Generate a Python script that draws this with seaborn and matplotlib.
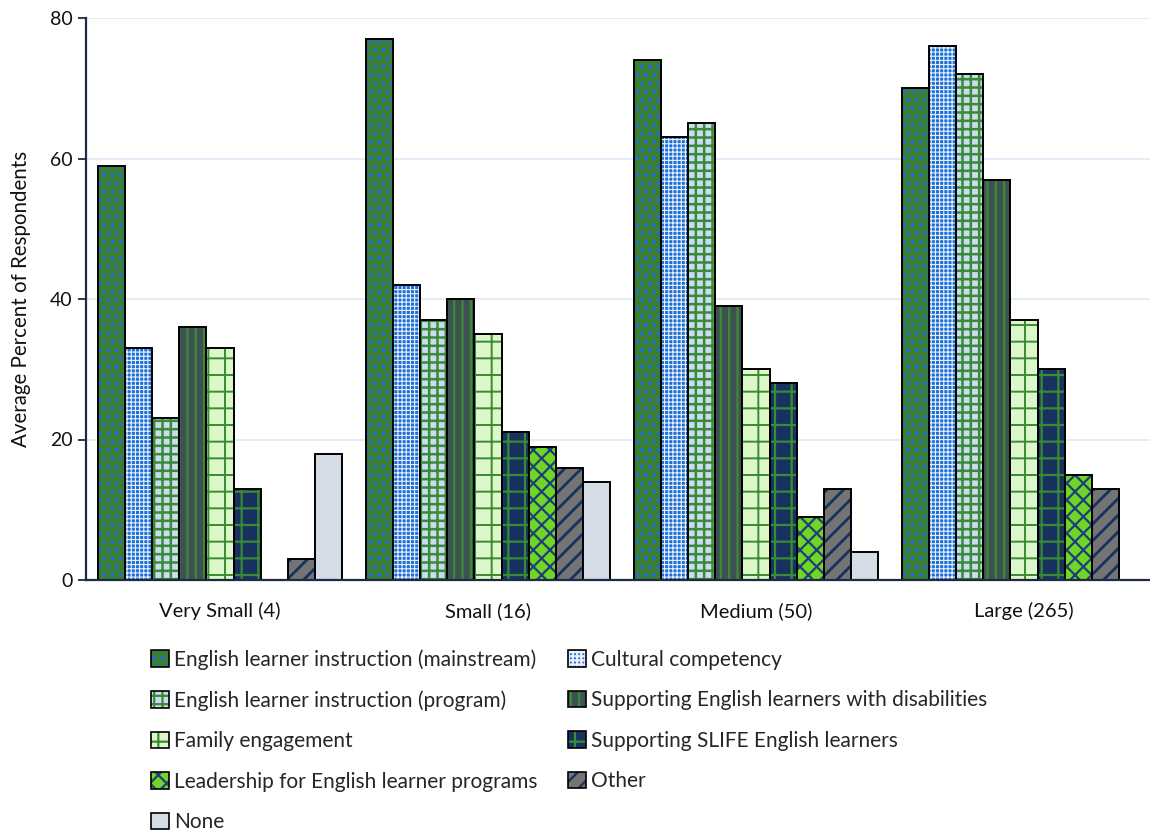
import numpy as np
import pandas as pd
import matplotlib
matplotlib.use("Agg")
import matplotlib.pyplot as plt
import matplotlib.colors as mcolors
import seaborn as sns

# District size groups and training topics
sizes = ["Very Small (4)", "Small (16)", "Medium (50)", "Large (265)"]
topics = [
    "English learner instruction (mainstream)",
    "Cultural competency",
    "English learner instruction (program)",
    "Supporting English learners with disabilities",
    "Family engagement",
    "Supporting SLIFE English learners",
    "Leadership for English learner programs",
    "Other",
    "None",
]

# Average percent of respondents per topic, one value per size group
mainstream = [59, 77, 74, 70]
cultural = [33, 42, 63, 76]
program = [23, 37, 65, 72]
disabilities = [36, 40, 39, 57]
family = [33, 35, 30, 37]
slife = [13, 21, 28, 30]
leadership = [0, 19, 9, 15]
other = [3, 16, 13, 13]
none = [18, 14, 4, 0]

series = [mainstream, cultural, program, disabilities, family,
          slife, leadership, other, none]

rows = []
for topic, vals in zip(topics, series):
    for size, v in zip(sizes, vals):
        rows.append({"size": size, "topic": topic, "pct": v})
df = pd.DataFrame(rows)

# Fill colour, hatch pattern, hatch colour and hatch line width per topic
styles = [
    ("#3b7d33", "..", "#1e6fd6", 1.6),
    ("#1e6fd6", "++++", "#e8f0fb", 0.8),
    ("#c9dcf2", "++", "#3b8a34", 1.8),
    ("#3e5152", "||", "#3b8a34", 1.6),
    ("#dcf7c9", "+", "#3b8a34", 1.4),
    ("#17325f", "+", "#3b8a34", 1.6),
    ("#6fd625", "xx", "#1f3f7a", 1.6),
    ("#747474", "//", "#17325f", 2.0),
    ("#d6dce5", "", "#d6dce5", 1.0),
]


def style_patch(p, fc, hatch, hc, lw):
    p.set_facecolor(fc)
    p.set_hatch(hatch)
    p._hatch_color = mcolors.to_rgba(hc)
    if hasattr(p, "set_hatch_linewidth"):
        p.set_hatch_linewidth(lw)
    elif hasattr(p, "_hatch_linewidth"):
        p._hatch_linewidth = lw


sns.set_theme(style="white")
plt.rcParams["font.family"] = ["Lato", "DejaVu Sans"]
plt.rcParams["hatch.linewidth"] = 1.6

fig = plt.figure(figsize=(11.5, 8.36), dpi=100)
ax = fig.add_axes([86 / 1150, 256 / 836, 1072 / 1150, 562 / 836])

sns.barplot(data=df, x="size", y="pct", hue="topic", order=sizes,
            hue_order=topics, width=0.907, gap=0, ax=ax,
            edgecolor="black", linewidth=1.4, saturation=1)

for container, st in zip(ax.containers, styles):
    for p in container.patches:
        style_patch(p, *st)
        if p.get_height() == 0:
            p.set_visible(False)

if ax.get_legend() is not None:
    ax.get_legend().remove()

ax.set_ylim(0, 80)
ax.set_xlim(-0.5, 3.5)
ax.set_yticks([0, 20, 40, 60, 80])
ax.set_xlabel("")
ax.set_ylabel("Average Percent of Respondents", fontsize=14.8, color="#111111", labelpad=14)
ax.tick_params(axis="y", labelsize=14, colors="#111111", length=6, width=1.3,
               direction="out", left=True, color="#1f2a44")
ax.tick_params(axis="x", labelsize=14.5, colors="#111111", length=0, pad=16)
ax.yaxis.grid(True, color="#e1eaf6", linewidth=1.3)
ax.set_axisbelow(True)
for s in ["top", "right"]:
    ax.spines[s].set_visible(False)
for s in ["left", "bottom"]:
    ax.spines[s].set_color("#1f2a44")
    ax.spines[s].set_linewidth(1.6)

# Legend filled row by row: two columns below the plot
order = [0, 2, 4, 6, 8, 1, 3, 5, 7]
leg_handles = []
for i in order:
    h = matplotlib.patches.Patch(edgecolor="black", linewidth=1.2)
    style_patch(h, *styles[i])
    leg_handles.append(h)
fig.legend(leg_handles, [topics[i] for i in order], ncol=2,
           loc="upper left", bbox_to_anchor=(143 / 1150, 1 - 641 / 836),
           frameon=False, fontsize=15, handlelength=0.85, handleheight=0.85,
           handletextpad=0.25, labelspacing=0.98, columnspacing=1.45,
           borderaxespad=0)

fig.savefig("out.png", dpi=100)
